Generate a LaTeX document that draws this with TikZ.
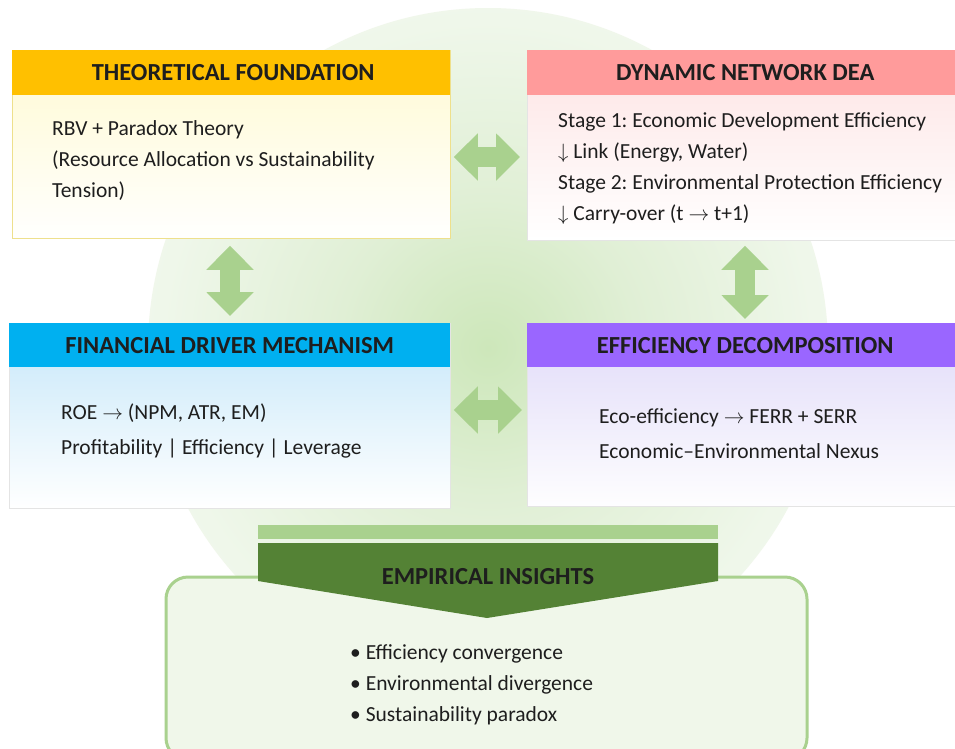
\documentclass[tikz,border=0pt]{standalone}
\usepackage{fontspec}
\setmainfont{Carlito}
\usetikzlibrary{arrows.meta,calc,positioning}
\frenchspacing

\definecolor{glowA}{HTML}{CDE7BA}
\definecolor{glowB}{HTML}{E0EFD5}
\definecolor{glowC}{HTML}{EFF7EA}
\definecolor{glowD}{HTML}{F7FBF4}
\definecolor{glowE}{HTML}{F9FCF7}
\definecolor{arrowgreen}{HTML}{A9D18E}
\definecolor{darkgreen}{HTML}{548235}
\definecolor{insightfill}{HTML}{F0F7EA}
\definecolor{hdrorange}{HTML}{FFC000}
\definecolor{hdrpink}{HTML}{FF9B9B}
\definecolor{hdrblue}{HTML}{00B0F0}
\definecolor{hdrpurple}{HTML}{9A66FF}
\definecolor{bodyyellow}{HTML}{FFFAD2}
\definecolor{bodypink}{HTML}{FDE4E4}
\definecolor{bodyblue}{HTML}{C6E7F9}
\definecolor{bodypurple}{HTML}{E0DAF8}
\definecolor{edgeyellow}{HTML}{EEE08C}
\definecolor{edgegray}{HTML}{E4E4E4}
\definecolor{textdark}{HTML}{1E1E1E}

\pgfdeclareradialshading{glow}{\pgfpoint{0bp}{0bp}}{%
  color(0bp)=(glowA); color(11bp)=(glowB); color(24bp)=(glowC); color(38bp)=(glowD); color(50bp)=(glowE)}

\tikzset{
  boxbody/.style={draw=#1, line width=0.8pt, rectangle, inner sep=0pt, anchor=north west},
  header/.style={rectangle, inner sep=0pt, anchor=north west},
  headtext/.style={text=textdark, inner sep=0pt, font=\fontsize{24.5}{28}\selectfont\bfseries},
  bodytext/.style={anchor=west, inner sep=0pt, align=left, text=textdark,
    font=\fontsize{21.5}{31}\selectfont},
  link/.style={arrowgreen, line width=20pt,
    {Triangle[width=46pt,length=24pt]}-{Triangle[width=46pt,length=24pt]}},
}

\begin{document}
\begin{tikzpicture}[x=1pt,y=-1pt]
\useasboundingbox (0,0) rectangle (955,748);
\fill[white] (0,0) rectangle (955,748);

% soft green halo behind the framework
\shade[shading=glow] (488,348) circle (340);

% ---- four framework blocks ----
% theoretical foundation
\node[boxbody=edgeyellow, minimum width=438pt, minimum height=188pt,
      top color=bodyyellow, bottom color=white!97!bodyyellow] (tf) at (12,50) {};
\node[header, fill=hdrorange, minimum width=438pt, minimum height=45pt] (tfh) at (12,50) {};
\node[headtext] (tfl) at ($(tfh.center)+(2,0)$) {THEORETICAL FOUNDATION};
\node[bodytext] (tft) at (52,161) {RBV + Paradox Theory\\(Resource Allocation vs Sustainability\\Tension)};

% dynamic network DEA
\node[boxbody=edgegray, minimum width=432pt, minimum height=190pt,
      top color=bodypink, bottom color=white] (dnd) at (527,50) {};
\node[header, fill=hdrpink, minimum width=432pt, minimum height=45pt] (dndh) at (527,50) {};
\node[headtext] (dndl) at ($(dndh.center)+(2,0)$) {DYNAMIC NETWORK DEA};
\node[bodytext] (dndt) at (558,169) {Stage 1: Economic Development Efficiency\\$\downarrow$ Link (Energy, Water)\\Stage 2: Environmental Protection Efficiency\\$\downarrow$ Carry-over (t $\rightarrow$ t+1)};

% financial driver mechanism
\node[boxbody=edgegray, minimum width=441pt, minimum height=185pt,
      top color=bodyblue, bottom color=white] (fdm) at (9,323) {};
\node[header, fill=hdrblue, minimum width=441pt, minimum height=44pt] (fdmh) at (9,323) {};
\node[headtext] (fdml) at (fdmh.center) {FINANCIAL DRIVER MECHANISM};
\node[bodytext] (fdmt) at (61,431) {ROE $\rightarrow$ (NPM, ATR, EM)\\[4pt]Profitability | Efficiency | Leverage};

% efficiency decomposition
\node[boxbody=edgegray, minimum width=432pt, minimum height=183pt,
      top color=bodypurple, bottom color=white!96!bodypurple] (ed) at (527,323) {};
\node[header, fill=hdrpurple, minimum width=432pt, minimum height=44pt] (edh) at (527,323) {};
\node[headtext] (edl) at ($(edh.center)+(2,0)$) {EFFICIENCY DECOMPOSITION};
\node[bodytext] (edt) at (599,434) {Eco-efficiency $\rightarrow$ FERR + SERR\\[4pt]Economic–Environmental Nexus};

% ---- two-way links between the blocks ----
\draw[link, shorten <=3pt, shorten >=7pt] (tf.east |- 0,157) -- (dnd.west |- 0,157);
\draw[link, shorten <=3pt, shorten >=5pt] (fdm.east |- 0,410) -- (ed.west |- 0,410);
\draw[link, shorten <=7pt, shorten >=7pt] (tf.south -| 230,0) -- (fdm.north -| 230,0);
\draw[link, shorten <=5pt, shorten >=4pt] (dnd.south -| 745,0) -- (ed.north -| 745,0);

% ---- empirical insights ----
\draw[arrowgreen, line width=3pt, fill=insightfill, rounded corners=22pt]
  (166,577) -- (807,577) -- (807,760) -- (166,760) -- cycle;
\node[fill=arrowgreen, inner sep=0pt, minimum width=460pt, minimum height=14pt, anchor=north west] (bar) at (258,525) {};
\fill[darkgreen] (258,543) -- (718,543) -- (718,581) -- (487,618) -- (258,581) -- cycle;
\node[headtext] (eih) at (488,577) {EMPIRICAL INSIGHTS};
\node[bodytext] (eit) at (350,685) {\textbullet\ Efficiency convergence\\\textbullet\ Environmental divergence\\\textbullet\ Sustainability paradox};

\end{tikzpicture}
\end{document}
